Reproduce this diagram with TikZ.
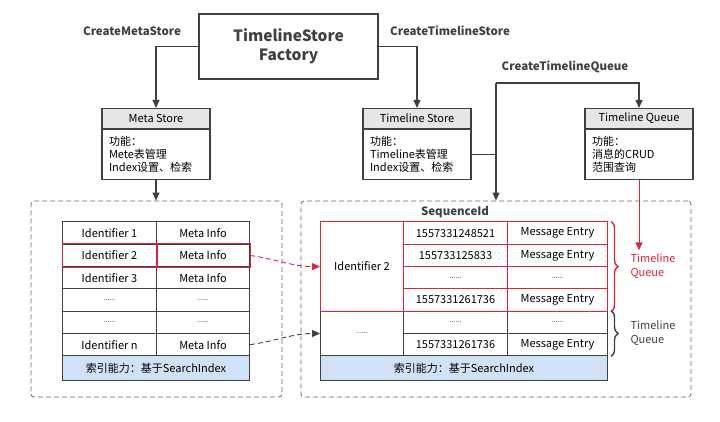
\documentclass[tikz,border=0pt]{standalone}
\usepackage{fontspec}
\setmainfont{Noto Sans CJK SC}
\usetikzlibrary{arrows.meta,decorations.pathreplacing,calc}

\definecolor{lineGray}{RGB}{64,64,64}
\definecolor{headGray}{RGB}{230,230,230}
\definecolor{idxBlue}{RGB}{207,226,248}
\definecolor{qRed}{RGB}{218,37,58}

\tikzset{
  cell/.style={draw=lineGray, line width=1pt, minimum height=22.3pt, inner sep=0pt, font=\fontsize{11}{12}\selectfont},
  head/.style={draw=lineGray, fill=headGray, line width=1.2pt, minimum width=108pt, minimum height=20pt, inner sep=0pt, font=\fontsize{11}{12}\selectfont},
  body/.style={draw=lineGray, line width=1.2pt, minimum height=50pt, text width=94pt, inner xsep=7pt, align=left, font=\fontsize{11}{13}\selectfont},
  lbl/.style={font=\bfseries\fontsize{11.5}{13}\selectfont, text=lineGray},
  dbox/.style={draw=lineGray!80, dash pattern=on 5pt off 3pt, line width=0.8pt, rounded corners=3pt, inner sep=0pt},
  arr/.style={draw=lineGray, line width=1.2pt, -{Triangle[length=8pt,width=7pt]}},
  darr/.style={line width=0.9pt, dash pattern=on 5pt off 3pt, -{Triangle[length=8pt,width=7pt]}},
  qbrace/.style={line width=1.4pt, decorate, decoration={brace, amplitude=7pt}},
}
\newcommand{\sixdots}{{\fontsize{7}{8}\selectfont ......}}

\begin{document}
\begin{tikzpicture}[x=1pt, y=-1pt]
\useasboundingbox (0,0) rectangle (720,422);

 %factory
  \node[draw=lineGray, line width=1.4pt, minimum width=179pt, minimum height=65pt, align=center,
        font=\bfseries\fontsize{15.5}{19}\selectfont, text=lineGray] (fac) at (288.5,46.5) {TimelineStore\\Factory};

 %stores
  \node[head, anchor=north] (ms) at (156,108) {Meta Store};
  \node[body, anchor=north] (msb) at (ms.south) {功能：\\Mete表管理\\Index设置、检索};

  \node[head, anchor=north] (ts) at (417,108) {Timeline Store};
  \node[body, anchor=north] (tsb) at (ts.south) {功能：\\Timeline表管理\\Index设置、检索};

  \node[head, anchor=north] (tq) at (639,108) {Timeline Queue};
  \node[body, anchor=north] (tqb) at (tq.south) {功能：\\消息的CRUD\\范围查询};

 %dashed frames
  \node[dbox, minimum width=251pt, minimum height=196pt] (lbox) at (156.5,299) {};
  \node[dbox, minimum width=390pt, minimum height=196pt] (rbox) at (496,299) {};

 %labels
  \node[lbl] (cms) at (132,31) {CreateMetaStore};
  \node[lbl] (cts) at (450,31) {CreateTimelineStore};
  \node[lbl] (ctq) at (565,67) {CreateTimelineQueue};
  \node[lbl] (seq) at (455,212) {SequenceId};

 %arrows
  \coordinate (jn) at (496,83);
  \draw[arr] (fac.west) -| (ms.north);
  \draw[arr] (fac.east) -| (ts.north);
  \draw[arr] (msb.south) -- (msb.south |- lbox.north);
  \draw[draw=lineGray, line width=1.2pt] (tsb.east) -- (tsb.east -| jn);
  \draw[arr] (jn) -| (tq.north);
  \draw[arr] (jn) -- (jn |- rbox.north);

 %left table
  \def\ty{221.5};
  \def\rh{22.3};
  \foreach \i/\id/\info in {0/Identifier 1/Meta Info, 1/Identifier 2/Meta Info, 2/Identifier 3/Meta Info,
                            3/\sixdots/\sixdots, 4/\sixdots/\sixdots, 5/Identifier n/Meta Info} {
     \node[cell, minimum width=94pt, anchor=north west] (la\i) at (62, \ty+\i*\rh) {\id};
     \node[cell, minimum width=93pt, anchor=north west] (lb\i) at (156, \ty+\i*\rh) {\info};
  }
  \draw[qRed, line width=1pt] (la1.north west) rectangle (la1.south east)
                              (lb1.north west) rectangle (lb1.south east);
  \node[cell, fill=idxBlue, minimum width=187pt, minimum height=25pt, anchor=north west] (lidx)
       at (62, \ty+6*\rh) {索引能力：基于SearchIndex};

 %right table
  \foreach \i/\seqno/\entry/\clr in {4/\sixdots/\sixdots/lineGray, 5/1557331261736/Message Entry/lineGray,
                                     0/1557331248521/Message Entry/qRed, 1/155733125833/Message Entry/qRed,
                                     2/\sixdots/\sixdots/qRed, 3/1557331261736/Message Entry/qRed} {
     \node[cell, draw=\clr, minimum width=104pt, anchor=north west] (rb\i) at (403, \ty+\i*\rh) {\seqno};
     \node[cell, draw=\clr, minimum width=100pt, anchor=north west] (rc\i) at (507, \ty+\i*\rh) {\entry};
  }
  \node[cell, minimum width=83pt, minimum height=44.6pt, anchor=north west] (ra2) at (320, \ty+4*\rh) {\sixdots};
  \node[cell, draw=qRed, minimum width=83pt, minimum height=89.2pt, anchor=north west] (ra1) at (320, \ty) {Identifier 2};
  \node[cell, fill=idxBlue, minimum width=287pt, minimum height=25pt, anchor=north west] (ridx)
       at (320, \ty+6*\rh) {索引能力：基于SearchIndex};

 %braces
  \draw[qbrace, qRed] ($(rc0.north east)+(3,0)$) -- ($(rc3.south east)+(3,0)$);
  \draw[qbrace, lineGray] ($(rc4.north east)+(3,0)$) -- ($(rc5.south east)+(3,0)$);
  \node[anchor=west, align=left, text=qRed, font=\fontsize{11}{13.5}\selectfont] (tql) at (627, 266) {Timeline\\Queue};
  \node[anchor=west, align=left, text=lineGray, font=\fontsize{11}{13.5}\selectfont] (tql2) at (627, 333) {Timeline\\Queue};

 %links
  \draw[qRed, line width=1pt, -{Triangle[length=8pt,width=7pt]}] (tqb.south) -- (tqb.south |- tql.north);
  \draw[darr, qRed] (lb1.east) to[out=-8, in=180] (ra1.west);
  \draw[darr, lineGray] (lb5.east) to[out=8, in=180] (ra2.west);
\end{tikzpicture}
\end{document}
